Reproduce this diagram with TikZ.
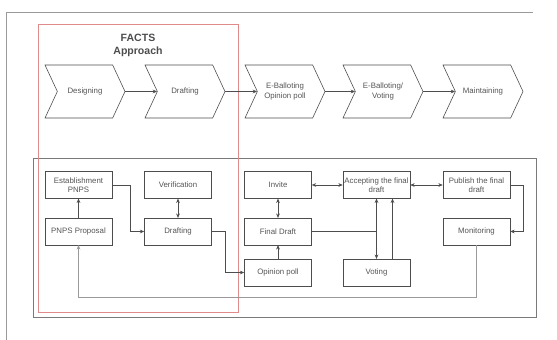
\documentclass[tikz,border=0pt]{standalone}
\usepackage{fontspec}
\setmainfont{Liberation Sans}
\usetikzlibrary{arrows.meta,shapes.symbols}
\definecolor{linegray}{HTML}{4D4D4D}
\definecolor{textgray}{HTML}{555555}
\definecolor{boxgray}{HTML}{7A7A7A}
\definecolor{framegray}{HTML}{9A9A9A}
\definecolor{facetred}{HTML}{E08A8A}
\tikzset{
  heading/.style={font=\bfseries\fontsize{9}{10.5}\selectfont,text=linegray},
  stage/.style={signal,signal from=west,signal to=east,signal pointer angle=130,draw=linegray,fill=white,line width=0.5pt,minimum width=2.4cm,minimum height=1.59cm,font=\fontsize{6.7}{7.8}\selectfont,text=textgray,align=center,inner sep=1pt},
  activity/.style={draw=linegray,fill=white,line width=0.5pt,minimum width=2.01cm,minimum height=0.8cm,font=\fontsize{6.7}{7.8}\selectfont,text=textgray,align=center,inner sep=1pt},
  link/.style={-{Stealth[length=1.3mm,width=1.1mm]},draw=linegray,line width=0.45pt},
  linkboth/.style={{Stealth[length=1.3mm,width=1.1mm]}-{Stealth[length=1.3mm,width=1.1mm]},draw=linegray,line width=0.45pt},
  feedback/.style={-{Stealth[length=1.3mm,width=1.1mm]},draw=framegray,line width=0.45pt}
}
\begin{document}
\begin{tikzpicture}[x=0.03cm,y=-0.03cm]
\path[use as bounding box] (0,0) rectangle (557,340);
\draw[framegray,line width=0.8pt] (6,340) -- (6,12) -- (533,12);
\draw[boxgray,line width=0.6pt] (33,158) rectangle (536,317);
\draw[facetred,line width=0.6pt] (38,24) rectangle (238,312);
\node[heading] (facts) at (138,38) {FACTS};
\node[heading] (approach) at (138,52) {Approach};

\node[stage] (design) at (85,91.5) {Designing};
\node[stage] (drafting) at (185,91.5) {Drafting};
\node[stage] (ballot) at (285,91.5) {E-Balloting\\Opinion poll};
\node[stage] (vote) at (383,91.5) {E-Balloting/\\Voting};
\node[stage] (maintain) at (483,91.5) {Maintaining};
\draw[link] (design.east)--(drafting.west); \draw[link] (drafting.east)--(ballot.west); \draw[link] (ballot.east)--(vote.west); \draw[link] (vote.east)--(maintain.west);

\node[activity] (estab) at (78.5,185) {Establishment\\PNPS};
\node[activity] (verif) at (178,185) {Verification};
\node[activity] (proposal) at (78.5,231.5) {PNPS Proposal};
\node[activity] (draft) at (178,231.5) {Drafting};
\draw[link] (proposal)--(estab); \draw[linkboth] (verif)--(draft);
\draw[link] (estab.east)-- ++(18,0) |- (draft.west);

\node[activity] (invite) at (278,185) {Invite};
\node[activity] (final) at (278,231.5) {Final Draft};
\node[activity] (opinion) at (278,272.5) {Opinion poll};
\node[activity] (accept) at (376.5,185) {Accepting the final\\draft};
\node[activity] (voting) at (376.5,272.5) {Voting};
\node[activity] (publish) at (476.5,185) {Publish the final\\draft};
\node[activity] (monitor) at (476.5,231.5) {Monitoring};
\draw[link] (draft.east)-- ++(13,0) |- (opinion.west);
\draw[link] (opinion)--(final); \draw[linkboth] (final)--(invite); \draw[linkboth] (invite)--(accept);
\draw[linkboth] (accept)--(voting); \draw[draw=linegray,line width=0.45pt] (final.east)--(final.east -| accept.south);
\draw[link] ([xshift=0.48cm]voting.north)--([xshift=0.48cm]accept.south);
\draw[linkboth] (accept)--(publish); \draw[link] (publish.east)-- ++(13,0) |- (monitor.east);
\draw[feedback] (monitor.south)-- ++(0,52) -| (proposal.south);
\end{tikzpicture}
\end{document}
